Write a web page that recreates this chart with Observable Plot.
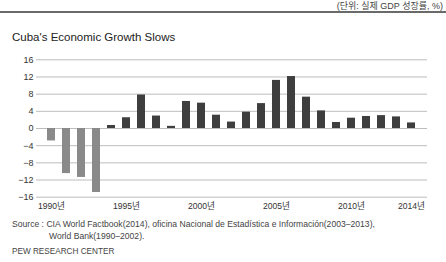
<!DOCTYPE html>
<html>
<head>
<meta charset="utf-8">
<script src="https://cdn.jsdelivr.net/npm/d3@7"></script>
<script src="https://cdn.jsdelivr.net/npm/@observablehq/plot@0.6"></script>
<style>
  html, body { margin: 0; padding: 0; background: #fff; }
  #wrap { position: relative; width: 446px; height: 262px; overflow: hidden;
          font-family: "Liberation Sans", Arial, "Noto Sans CJK KR", sans-serif; color: #333; }
  .t { position: absolute; white-space: nowrap; }
  #unit { right: 3px; top: -1px; font-size: 9px; color: #444; font-family: "Liberation Sans", "Noto Sans CJK KR", sans-serif; }
  #rule { position: absolute; left: 0; top: 11px; width: 446px; height: 2px; background: #6a6a6a; }
  #title { left: 12px; top: 31px; font-size: 11.5px; color: #222; }
  #chart { position: absolute; left: 0; top: 50px; }
  #src1 { left: 12px; top: 219px; font-size: 8.6px; color: #444; }
  #src2 { left: 49px; top: 231px; font-size: 8.6px; color: #444; }
  #pew { left: 12px; top: 247px; font-size: 8.2px; color: #444; }
</style>
</head>
<body>
<div id="wrap">
  <div class="t" id="unit">(단위: 실제 GDP 성장률, %)</div>
  <div id="rule"></div>
  <div class="t" id="title">Cuba's Economic Growth Slows</div>
  <div id="chart"></div>
  <div class="t" id="src1">Source : CIA World Factbook(2014), oficina Nacional de Estadística e Información(2003–2013),</div>
  <div class="t" id="src2">World Bank(1990–2002).</div>
  <div class="t" id="pew">PEW RESEARCH CENTER</div>
</div>
<script>
// Real GDP growth rate of Cuba, % per year
const years = [1990, 1991, 1992, 1993, 1994, 1995, 1996, 1997, 1998, 1999,
               2000, 2001, 2002, 2003, 2004, 2005, 2006, 2007, 2008, 2009,
               2010, 2011, 2012, 2013, 2014];
const growth = [-2.9, -10.5, -11.4, -14.9, 0.7, 2.5, 7.8, 2.9, 0.5, 6.3,
                5.9, 3.1, 1.5, 3.8, 5.8, 11.2, 12.1, 7.3, 4.1, 1.4,
                2.4, 2.8, 3.0, 2.7, 1.3];
const yTicks = [-16, -12, -8, -4, 0, 4, 8, 12, 16];
const xLabelYears = [1990, 1995, 2000, 2005, 2010, 2014];

const rows = years.map((year, i) => ({year, value: growth[i]}));

const chart = Plot.plot({
  width: 446,
  height: 165,
  marginLeft: 36,
  marginRight: 19,
  marginTop: 9.3,
  marginBottom: 18.3,
  style: {fontFamily: "'Liberation Sans', Arial, 'Noto Sans CJK KR', sans-serif", fontSize: "9px", color: "#333", background: "transparent"},
  x: {type: "band", domain: years, padding: 0.45},
  y: {domain: [-16, 16]},
  marks: [
    Plot.ruleY(yTicks, {stroke: "#bdbdbd", strokeWidth: 1}),
    Plot.barY(rows.filter(d => d.value < 0), {x: "year", y: "value", fill: "#8a8a8a"}),
    Plot.barY(rows.filter(d => d.value >= 0), {x: "year", y: "value", fill: "#3e3e3e"}),
    Plot.axisY({ticks: yTicks, tickSize: 0, tickPadding: 3, label: null, fontSize: 9,
                tickFormat: d => d < 0 ? "−" + Math.abs(d) : String(d)}),
    Plot.axisX({ticks: xLabelYears, tickSize: 0, tickPadding: 6, label: null,
                fontSize: 8.6, tickFormat: d => d + "년"})
  ]
});
document.getElementById("chart").appendChild(chart);
</script>
</body>
</html>
